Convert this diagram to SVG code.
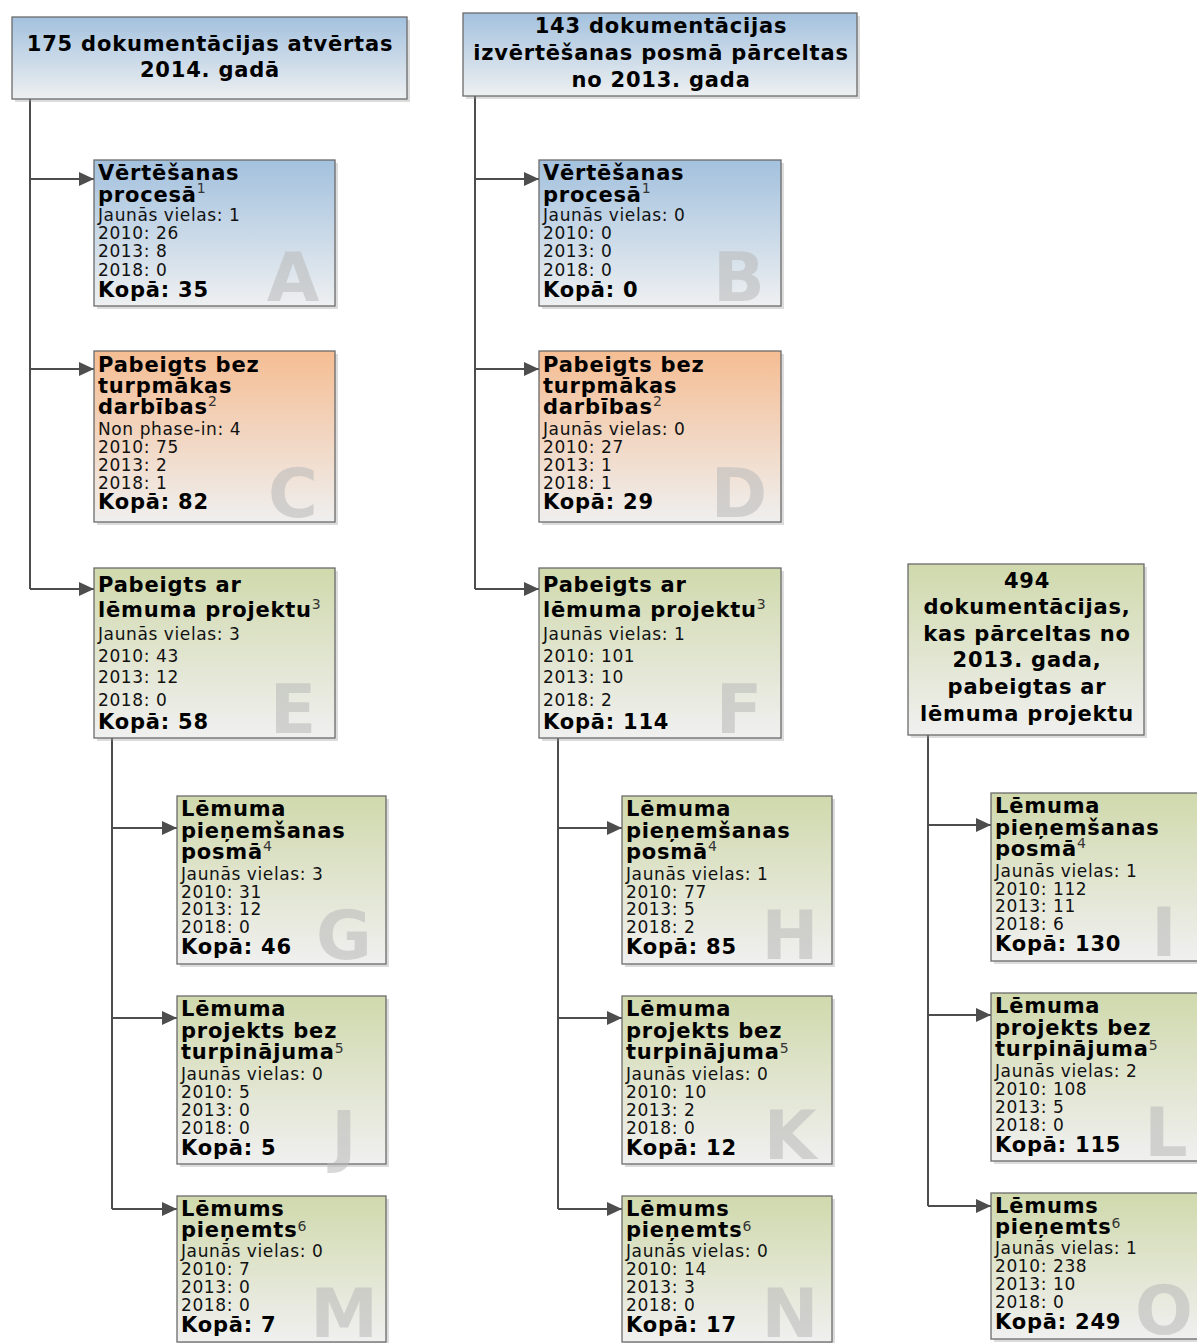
<svg xmlns="http://www.w3.org/2000/svg" width="1197" height="1343" viewBox="0 0 1197 1343">
<defs>
<linearGradient id="gBlue" x1="0" y1="0" x2="0" y2="1"><stop offset="0" stop-color="#a3c1de"/><stop offset="1" stop-color="#eef0f1"/></linearGradient>
<linearGradient id="gOrange" x1="0" y1="0" x2="0" y2="1"><stop offset="0" stop-color="#f5bd93"/><stop offset="1" stop-color="#efefef"/></linearGradient>
<linearGradient id="gGreen" x1="0" y1="0" x2="0" y2="1"><stop offset="0" stop-color="#d0d9ac"/><stop offset="1" stop-color="#f0f0f0"/></linearGradient>
<marker id="arr" markerUnits="userSpaceOnUse" markerWidth="15" markerHeight="14" refX="15" refY="7" orient="auto"><path d="M0,0 L15,7 L0,14 z" fill="#4d4d4d"/></marker>
</defs>
<style>
.box{stroke:#6b6b6b;stroke-width:1.3}
.blue{fill:url(#gBlue)}
.orange{fill:url(#gOrange)}
.green{fill:url(#gGreen)}
.sh{fill:#9a9a9a;opacity:.35}
.t{font-family:"DejaVu Sans",Verdana,sans-serif;font-weight:bold;font-size:21px;letter-spacing:0.8px;fill:#000}
.h{text-anchor:middle}
.s{font-family:"DejaVu Sans",Verdana,sans-serif;font-size:17px;letter-spacing:0.6px;fill:#111}
.sup{font-size:14px;font-weight:normal;letter-spacing:0;fill:#333}
.wm{font-family:"DejaVu Sans",Verdana,sans-serif;font-weight:bold;font-size:68px;fill:#b8b8b8;fill-opacity:.55;text-anchor:middle}
.c{fill:none;stroke:#4d4d4d;stroke-width:2}
.ca{fill:none;stroke:#4d4d4d;stroke-width:2;marker-end:url(#arr)}
</style>
<rect width="1197" height="1343" fill="#ffffff"/>

<g id="connectors">
<path class="c" d="M30,99 V589"/>
<path class="ca" d="M30,179 H94"/>
<path class="ca" d="M30,369 H94"/>
<path class="ca" d="M30,589 H94"/>
<path class="c" d="M475,96 V589"/>
<path class="ca" d="M475,179 H539"/>
<path class="ca" d="M475,369 H539"/>
<path class="ca" d="M475,589 H539"/>
<path class="c" d="M112,738 V1209"/>
<path class="ca" d="M112,828 H177"/>
<path class="ca" d="M112,1018 H177"/>
<path class="ca" d="M112,1209 H177"/>
<path class="c" d="M558,738 V1209"/>
<path class="ca" d="M558,828 H622"/>
<path class="ca" d="M558,1018 H622"/>
<path class="ca" d="M558,1209 H622"/>
<path class="c" d="M928,735 V1206"/>
<path class="ca" d="M928,825 H991"/>
<path class="ca" d="M928,1015 H991"/>
<path class="ca" d="M928,1206 H991"/>
</g>

<g id="header1">
<rect class="sh" x="15" y="20" width="395" height="82"/>
<rect class="box blue" x="12" y="17" width="395" height="82"/>
<text class="t h" x="210" y="51">175 dokumentācijas atvērtas</text>
<text class="t h" x="210" y="77">2014. gadā</text>
</g>

<g id="header2">
<rect class="sh" x="466" y="16" width="394" height="83"/>
<rect class="box blue" x="463" y="13" width="394" height="83"/>
<text class="t h" x="661" y="33">143 dokumentācijas</text>
<text class="t h" x="661" y="60">izvērtēšanas posmā pārceltas</text>
<text class="t h" x="661" y="87">no 2013. gada</text>
</g>

<g id="header3">
<rect class="sh" x="911" y="567" width="236" height="171"/>
<rect class="box green" x="908" y="564" width="236" height="171"/>
<text class="t h" x="1027" y="588">494</text>
<text class="t h" x="1027" y="614">dokumentācijas,</text>
<text class="t h" x="1027" y="641">kas pārceltas no</text>
<text class="t h" x="1027" y="667">2013. gada,</text>
<text class="t h" x="1027" y="694">pabeigtas ar</text>
<text class="t h" x="1027" y="721">lēmuma projektu</text>
</g>

<g id="nodeA">
<rect class="sh" x="97" y="163" width="241" height="146"/>
<rect class="box blue" x="94" y="160" width="241" height="146"/>
<text class="wm" x="293" y="301">A</text>
<text class="t" x="98" y="180">Vērtēšanas</text>
<text class="t" x="98" y="202">procesā<tspan class="sup" dy="-9">1</tspan></text>
<text class="s" x="98" y="221">Jaunās vielas: 1</text>
<text class="s" x="98" y="239">2010: 26</text>
<text class="s" x="98" y="257">2013: 8</text>
<text class="s" x="98" y="276">2018: 0</text>
<text class="t" x="98" y="297">Kopā: 35</text>
</g>

<g id="nodeB">
<rect class="sh" x="542" y="163" width="242" height="146"/>
<rect class="box blue" x="539" y="160" width="242" height="146"/>
<text class="wm" x="739" y="301">B</text>
<text class="t" x="543" y="180">Vērtēšanas</text>
<text class="t" x="543" y="202">procesā<tspan class="sup" dy="-9">1</tspan></text>
<text class="s" x="543" y="221">Jaunās vielas: 0</text>
<text class="s" x="543" y="239">2010: 0</text>
<text class="s" x="543" y="257">2013: 0</text>
<text class="s" x="543" y="276">2018: 0</text>
<text class="t" x="543" y="297">Kopā: 0</text>
</g>

<g id="nodeC">
<rect class="sh" x="97" y="354" width="241" height="171"/>
<rect class="box orange" x="94" y="351" width="241" height="171"/>
<text class="wm" x="293" y="517">C</text>
<text class="t" x="98" y="372">Pabeigts bez</text>
<text class="t" x="98" y="393">turpmākas</text>
<text class="t" x="98" y="414">darbības<tspan class="sup" dy="-8">2</tspan></text>
<text class="s" x="98" y="435">Non phase-in: 4</text>
<text class="s" x="98" y="453">2010: 75</text>
<text class="s" x="98" y="471">2013: 2</text>
<text class="s" x="98" y="489">2018: 1</text>
<text class="t" x="98" y="509">Kopā: 82</text>
</g>

<g id="nodeD">
<rect class="sh" x="542" y="354" width="242" height="171"/>
<rect class="box orange" x="539" y="351" width="242" height="171"/>
<text class="wm" x="739" y="517">D</text>
<text class="t" x="543" y="372">Pabeigts bez</text>
<text class="t" x="543" y="393">turpmākas</text>
<text class="t" x="543" y="414">darbības<tspan class="sup" dy="-8">2</tspan></text>
<text class="s" x="543" y="435">Jaunās vielas: 0</text>
<text class="s" x="543" y="453">2010: 27</text>
<text class="s" x="543" y="471">2013: 1</text>
<text class="s" x="543" y="489">2018: 1</text>
<text class="t" x="543" y="509">Kopā: 29</text>
</g>

<g id="nodeE">
<rect class="sh" x="97" y="571" width="241" height="170"/>
<rect class="box green" x="94" y="568" width="241" height="170"/>
<text class="wm" x="293" y="733">E</text>
<text class="t" x="98" y="592">Pabeigts ar</text>
<text class="t" x="98" y="617">lēmuma projektu<tspan class="sup" dy="-8">3</tspan></text>
<text class="s" x="98" y="640">Jaunās vielas: 3</text>
<text class="s" x="98" y="662">2010: 43</text>
<text class="s" x="98" y="683">2013: 12</text>
<text class="s" x="98" y="706">2018: 0</text>
<text class="t" x="98" y="729">Kopā: 58</text>
</g>

<g id="nodeF">
<rect class="sh" x="542" y="571" width="242" height="170"/>
<rect class="box green" x="539" y="568" width="242" height="170"/>
<text class="wm" x="739" y="733">F</text>
<text class="t" x="543" y="592">Pabeigts ar</text>
<text class="t" x="543" y="617">lēmuma projektu<tspan class="sup" dy="-8">3</tspan></text>
<text class="s" x="543" y="640">Jaunās vielas: 1</text>
<text class="s" x="543" y="662">2010: 101</text>
<text class="s" x="543" y="683">2013: 10</text>
<text class="s" x="543" y="706">2018: 2</text>
<text class="t" x="543" y="729">Kopā: 114</text>
</g>

<g id="nodeG">
<rect class="sh" x="180" y="799" width="209" height="168"/>
<rect class="box green" x="177" y="796" width="209" height="168"/>
<text class="wm" x="344" y="959">G</text>
<text class="t" x="181" y="816">Lēmuma</text>
<text class="t" x="181" y="838">pieņemšanas</text>
<text class="t" x="181" y="859">posmā<tspan class="sup" dy="-8">4</tspan></text>
<text class="s" x="181" y="880">Jaunās vielas: 3</text>
<text class="s" x="181" y="898">2010: 31</text>
<text class="s" x="181" y="915">2013: 12</text>
<text class="s" x="181" y="933">2018: 0</text>
<text class="t" x="181" y="954">Kopā: 46</text>
</g>

<g id="nodeH">
<rect class="sh" x="625" y="799" width="210" height="168"/>
<rect class="box green" x="622" y="796" width="210" height="168"/>
<text class="wm" x="790" y="959">H</text>
<text class="t" x="626" y="816">Lēmuma</text>
<text class="t" x="626" y="838">pieņemšanas</text>
<text class="t" x="626" y="859">posmā<tspan class="sup" dy="-8">4</tspan></text>
<text class="s" x="626" y="880">Jaunās vielas: 1</text>
<text class="s" x="626" y="898">2010: 77</text>
<text class="s" x="626" y="915">2013: 5</text>
<text class="s" x="626" y="933">2018: 2</text>
<text class="t" x="626" y="954">Kopā: 85</text>
</g>

<g id="nodeI">
<rect class="sh" x="994" y="796" width="210" height="168"/>
<rect class="box green" x="991" y="793" width="210" height="168"/>
<text class="wm" x="1164" y="956">I</text>
<text class="t" x="995" y="813">Lēmuma</text>
<text class="t" x="995" y="835">pieņemšanas</text>
<text class="t" x="995" y="856">posmā<tspan class="sup" dy="-8">4</tspan></text>
<text class="s" x="995" y="877">Jaunās vielas: 1</text>
<text class="s" x="995" y="895">2010: 112</text>
<text class="s" x="995" y="912">2013: 11</text>
<text class="s" x="995" y="930">2018: 6</text>
<text class="t" x="995" y="951">Kopā: 130</text>
</g>

<g id="nodeJ">
<rect class="sh" x="180" y="999" width="209" height="168"/>
<rect class="box green" x="177" y="996" width="209" height="168"/>
<text class="wm" x="344" y="1159">J</text>
<text class="t" x="181" y="1016">Lēmuma</text>
<text class="t" x="181" y="1038">projekts bez</text>
<text class="t" x="181" y="1059">turpinājuma<tspan class="sup" dy="-6">5</tspan></text>
<text class="s" x="181" y="1080">Jaunās vielas: 0</text>
<text class="s" x="181" y="1098">2010: 5</text>
<text class="s" x="181" y="1116">2013: 0</text>
<text class="s" x="181" y="1134">2018: 0</text>
<text class="t" x="181" y="1155">Kopā: 5</text>
</g>

<g id="nodeK">
<rect class="sh" x="625" y="999" width="210" height="168"/>
<rect class="box green" x="622" y="996" width="210" height="168"/>
<text class="wm" x="790" y="1159">K</text>
<text class="t" x="626" y="1016">Lēmuma</text>
<text class="t" x="626" y="1038">projekts bez</text>
<text class="t" x="626" y="1059">turpinājuma<tspan class="sup" dy="-6">5</tspan></text>
<text class="s" x="626" y="1080">Jaunās vielas: 0</text>
<text class="s" x="626" y="1098">2010: 10</text>
<text class="s" x="626" y="1116">2013: 2</text>
<text class="s" x="626" y="1134">2018: 0</text>
<text class="t" x="626" y="1155">Kopā: 12</text>
</g>

<g id="nodeL">
<rect class="sh" x="994" y="996" width="210" height="168"/>
<rect class="box green" x="991" y="993" width="210" height="168"/>
<text class="wm" x="1166" y="1156">L</text>
<text class="t" x="995" y="1013">Lēmuma</text>
<text class="t" x="995" y="1035">projekts bez</text>
<text class="t" x="995" y="1056">turpinājuma<tspan class="sup" dy="-6">5</tspan></text>
<text class="s" x="995" y="1077">Jaunās vielas: 2</text>
<text class="s" x="995" y="1095">2010: 108</text>
<text class="s" x="995" y="1113">2013: 5</text>
<text class="s" x="995" y="1131">2018: 0</text>
<text class="t" x="995" y="1152">Kopā: 115</text>
</g>

<g id="nodeM">
<rect class="sh" x="180" y="1199" width="209" height="146"/>
<rect class="box green" x="177" y="1196" width="209" height="146"/>
<text class="wm" x="344" y="1337">M</text>
<text class="t" x="181" y="1216">Lēmums</text>
<text class="t" x="181" y="1237">pieņemts<tspan class="sup" dy="-6">6</tspan></text>
<text class="s" x="181" y="1257">Jaunās vielas: 0</text>
<text class="s" x="181" y="1275">2010: 7</text>
<text class="s" x="181" y="1293">2013: 0</text>
<text class="s" x="181" y="1311">2018: 0</text>
<text class="t" x="181" y="1332">Kopā: 7</text>
</g>

<g id="nodeN">
<rect class="sh" x="625" y="1199" width="210" height="146"/>
<rect class="box green" x="622" y="1196" width="210" height="146"/>
<text class="wm" x="790" y="1337">N</text>
<text class="t" x="626" y="1216">Lēmums</text>
<text class="t" x="626" y="1237">pieņemts<tspan class="sup" dy="-6">6</tspan></text>
<text class="s" x="626" y="1257">Jaunās vielas: 0</text>
<text class="s" x="626" y="1275">2010: 14</text>
<text class="s" x="626" y="1293">2013: 3</text>
<text class="s" x="626" y="1311">2018: 0</text>
<text class="t" x="626" y="1332">Kopā: 17</text>
</g>

<g id="nodeO">
<rect class="sh" x="994" y="1196" width="210" height="146"/>
<rect class="box green" x="991" y="1193" width="210" height="146"/>
<text class="wm" x="1164" y="1334">O</text>
<text class="t" x="995" y="1213">Lēmums</text>
<text class="t" x="995" y="1234">pieņemts<tspan class="sup" dy="-6">6</tspan></text>
<text class="s" x="995" y="1254">Jaunās vielas: 1</text>
<text class="s" x="995" y="1272">2010: 238</text>
<text class="s" x="995" y="1290">2013: 10</text>
<text class="s" x="995" y="1308">2018: 0</text>
<text class="t" x="995" y="1329">Kopā: 249</text>
</g>
</svg>
